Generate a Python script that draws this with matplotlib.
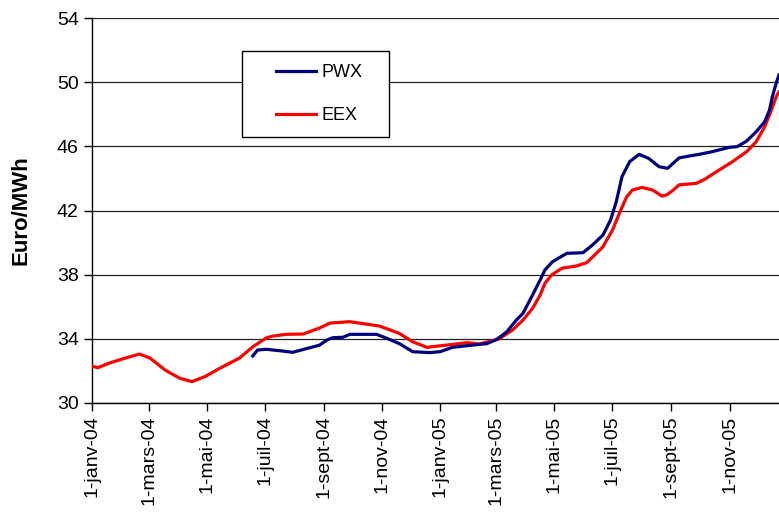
import matplotlib
matplotlib.use("Agg")
import matplotlib.pyplot as plt
import pandas as pd
from matplotlib.patches import Rectangle

# EEX daily price (Euro/MWh)
eex_dates = [
    "2004-01-01", "2004-01-07", "2004-01-20", "2004-02-05", "2004-02-20",
    "2004-03-02", "2004-03-18", "2004-04-02", "2004-04-15", "2004-04-29",
    "2004-05-14", "2004-06-04", "2004-06-18", "2004-07-02", "2004-07-09",
    "2004-07-23", "2004-08-10", "2004-08-27", "2004-09-07", "2004-09-28",
    "2004-10-15", "2004-10-29", "2004-11-19", "2004-12-03", "2004-12-18",
    "2005-01-08", "2005-01-29", "2005-02-11", "2005-03-04", "2005-03-18",
    "2005-03-29", "2005-04-08", "2005-04-16", "2005-04-21", "2005-04-28",
    "2005-05-09", "2005-05-24", "2005-06-04", "2005-06-14", "2005-06-21",
    "2005-07-01", "2005-07-09", "2005-07-16", "2005-07-22", "2005-08-01",
    "2005-08-12", "2005-08-22", "2005-08-27", "2005-09-02", "2005-09-09",
    "2005-09-27", "2005-10-06", "2005-10-21", "2005-11-04", "2005-11-19",
    "2005-11-29", "2005-12-08", "2005-12-15", "2005-12-20", "2005-12-23",
]
eex_values = [
    32.3, 32.2, 32.5, 32.8, 33.05,
    32.8, 32.05, 31.55, 31.33, 31.65,
    32.15, 32.8, 33.5, 34.05, 34.17,
    34.28, 34.3, 34.67, 34.98, 35.07,
    34.92, 34.8, 34.34, 33.82, 33.47,
    33.61, 33.76, 33.68, 34.0, 34.55,
    35.17, 35.9, 36.73, 37.46, 37.98,
    38.4, 38.54, 38.75, 39.33, 39.74,
    40.78, 41.93, 42.86, 43.28, 43.44,
    43.28, 42.9, 42.97, 43.23, 43.6,
    43.69, 43.95, 44.52, 45.04, 45.67,
    46.29, 47.23, 48.26, 49.09, 49.4,
]

# PWX starts mid-June 2004
pwx_dates = [
    "2004-06-18", "2004-06-23", "2004-07-02", "2004-07-19", "2004-07-30",
    "2004-08-14", "2004-08-27", "2004-09-04", "2004-09-10", "2004-09-21",
    "2004-09-28", "2004-10-26", "2004-11-06", "2004-11-19", "2004-12-03",
    "2004-12-21", "2005-01-01", "2005-01-14", "2005-02-04", "2005-02-19",
    "2005-03-01", "2005-03-12", "2005-03-22", "2005-03-29", "2005-04-08",
    "2005-04-16", "2005-04-21", "2005-04-29", "2005-05-14", "2005-05-31",
    "2005-06-10", "2005-06-21", "2005-06-29", "2005-07-05", "2005-07-11",
    "2005-07-19", "2005-07-29", "2005-08-08", "2005-08-19", "2005-08-28",
    "2005-09-09", "2005-09-20", "2005-09-30", "2005-10-14", "2005-11-01",
    "2005-11-09", "2005-11-19", "2005-11-29", "2005-12-08", "2005-12-13",
    "2005-12-16", "2005-12-20", "2005-12-23",
]
pwx_values = [
    32.93, 33.3, 33.35, 33.24, 33.16,
    33.4, 33.6, 33.93, 34.07, 34.1,
    34.28, 34.28, 34.03, 33.7, 33.2,
    33.14, 33.2, 33.47, 33.61, 33.7,
    33.95, 34.44, 35.17, 35.59, 36.73,
    37.67, 38.29, 38.81, 39.33, 39.37,
    39.85, 40.47, 41.41, 42.55, 44.11,
    45.04, 45.5, 45.25, 44.73, 44.63,
    45.28, 45.4, 45.5, 45.67, 45.94,
    45.98, 46.33, 46.91, 47.54, 48.26,
    49.09, 49.93, 50.45,
]

tick_dates = [
    "2004-01-01", "2004-03-01", "2004-05-01", "2004-07-01", "2004-09-01",
    "2004-11-01", "2005-01-01", "2005-03-01", "2005-05-01", "2005-07-01",
    "2005-09-01", "2005-11-01",
]
tick_labels = [
    "1-janv-04", "1-mars-04", "1-mai-04", "1-juil-04", "1-sept-04",
    "1-nov-04", "1-janv-05", "1-mars-05", "1-mai-05", "1-juil-05",
    "1-sept-05", "1-nov-05",
]
y_ticks = [30, 34, 38, 42, 46, 50, 54]

plt.rcParams["font.family"] = ["Liberation Sans", "DejaVu Sans"]

fig = plt.figure(figsize=(7.79, 5.15), dpi=100)
ax = fig.add_axes([0.118, 0.2175, 0.882, 0.7475])

ax.plot(pd.to_datetime(pwx_dates), pwx_values, color="#000080", lw=2.3,
        label="PWX", zorder=3, solid_joinstyle="round")
ax.plot(pd.to_datetime(eex_dates), eex_values, color="#ff0000", lw=2.3,
        label="EEX", zorder=2.9, solid_joinstyle="round")

ax.set_xlim(pd.Timestamp("2004-01-01"), pd.Timestamp("2005-12-23"))
ax.set_ylim(30, 54)
ax.set_yticks(y_ticks)
ax.set_xticks(pd.to_datetime(tick_dates))
ax.set_xticklabels(tick_labels, rotation=90)
ax.tick_params(axis="both", labelsize=14, length=6, width=1, direction="out",
               colors="black")
ax.tick_params(axis="x", pad=3)

ax.grid(axis="y", color="#222222", lw=0.9)
ax.set_axisbelow(True)
for s in ("top", "right"):
    ax.spines[s].set_visible(False)
for s in ("left", "bottom"):
    ax.spines[s].set_linewidth(1.0)

ax.set_ylabel("Euro/MWh", fontsize=16, fontweight="bold", labelpad=18)

# legend box drawn separately so padding matches the original
ax.add_patch(Rectangle((0.2183, 0.6909), 0.214, 0.2234, transform=ax.transAxes,
                       facecolor="white", edgecolor="black", lw=1.0, zorder=4))
leg = ax.legend(loc="center left", bbox_to_anchor=(0.268, 0.8026), frameon=False,
                fontsize=13, handlelength=2.2, handletextpad=0.3,
                labelspacing=1.45, borderpad=0, borderaxespad=0)
leg.set_zorder(5)

fig.savefig("out.png", dpi=100)
